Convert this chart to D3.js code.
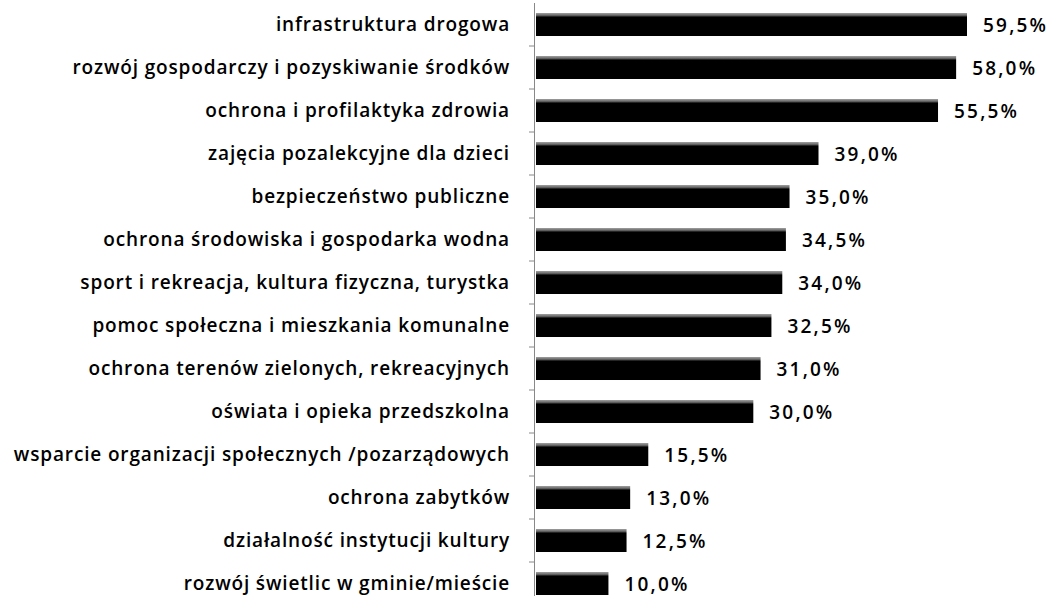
<!DOCTYPE html>
<html>
<head>
<meta charset="utf-8">
<script src="https://cdn.jsdelivr.net/npm/d3@7"></script>
<style>
  body { margin: 0; background: #fff; }
  text { font-family: "Open Sans", sans-serif; }
</style>
</head>
<body>
<svg id="chart"></svg>
<script>
var categories = [
	"infrastruktura drogowa",
	"rozwój gospodarczy i pozyskiwanie środków",
	"ochrona i profilaktyka zdrowia",
	"zajęcia pozalekcyjne dla dzieci",
	"bezpieczeństwo publiczne",
	"ochrona środowiska i gospodarka wodna",
	"sport i rekreacja, kultura fizyczna, turystka",
	"pomoc społeczna i mieszkania komunalne",
	"ochrona terenów zielonych, rekreacyjnych",
	"oświata i opieka przedszkolna",
	"wsparcie organizacji społecznych /pozarządowych",
	"ochrona zabytków",
	"działalność instytucji kultury",
	"rozwój świetlic w gminie/mieście"
];
var values = [59.5, 58.0, 55.5, 39.0, 35.0, 34.5, 34.0, 32.5, 31.0, 30.0, 15.5, 13.0, 12.5, 10.0];

var width = 1052;
var height = 596;
var x0 = 536;

var svg = d3.select("#chart")
	.attr("width", width)
	.attr("height", height);

// bars are black with a speckled grey top edge in the scan
var defs = svg.append("defs");
var grad = defs.append("linearGradient")
	.attr("id", "barGrad")
	.attr("x1", 0).attr("y1", 0).attr("x2", 0).attr("y2", 1);
grad.append("stop").attr("offset", "0%").attr("stop-color", "#a0a0a0");
grad.append("stop").attr("offset", "10%").attr("stop-color", "#6a6a6a");
grad.append("stop").attr("offset", "18%").attr("stop-color", "#000");
grad.append("stop").attr("offset", "100%").attr("stop-color", "#000");

var xScale = d3.scaleLinear()
	.domain([0, 59.5])
	.range([x0, 967]);

var yScale = d3.scaleBand()
	.domain(categories)
	.range([3, 605])
	.paddingInner(0.465)
	.paddingOuter(0.2325);

// bars
svg.selectAll("rect.bar")
	.data(values)
	.enter()
	.append("rect")
		.attr("class", "bar")
		.attr("x", xScale(0))
		.attr("y", function(d, i) { return yScale(categories[i]); })
		.attr("width", function(d) { return xScale(d) - xScale(0); })
		.attr("height", yScale.bandwidth())
		.attr("fill", "url(#barGrad)");

// axis line and ticks between categories
var step = yScale.step();
svg.append("line")
	.attr("x1", x0 - 1.5).attr("x2", x0 - 1.5)
	.attr("y1", 3).attr("y2", 605)
	.attr("stroke", "#888")
	.attr("stroke-width", 1);

svg.selectAll("line.tick")
	.data(categories.slice(1))
	.enter()
	.append("line")
		.attr("class", "tick")
		.attr("x1", x0 - 7).attr("x2", x0 - 1.5)
		.attr("y1", function(d) { return yScale(d) - (step - yScale.bandwidth()) / 2; })
		.attr("y2", function(d) { return yScale(d) - (step - yScale.bandwidth()) / 2; })
		.attr("stroke", "#888");

// category labels
svg.selectAll("text.cat")
	.data(categories)
	.enter()
	.append("text")
		.attr("class", "cat")
		.attr("x", 510)
		.attr("y", function(d) { return yScale(d) + yScale.bandwidth() / 2; })
		.attr("dy", "0.35em")
		.attr("text-anchor", "end")
		.style("font-size", "19px")
		.style("font-weight", "600")
		.style("letter-spacing", "0.85px")
		.text(function(d) { return d; });

// value labels
svg.selectAll("text.val")
	.data(values)
	.enter()
	.append("text")
		.attr("class", "val")
		.attr("x", function(d) { return xScale(d) + 16; })
		.attr("y", function(d, i) { return yScale(categories[i]) + yScale.bandwidth() / 2; })
		.attr("dy", "0.38em")
		.style("font-size", "19px")
		.style("font-weight", "600")
		.style("letter-spacing", "2.2px")
		.text(function(d) { return d.toFixed(1).replace(".", ",") + "%"; });
</script>
</body>
</html>
